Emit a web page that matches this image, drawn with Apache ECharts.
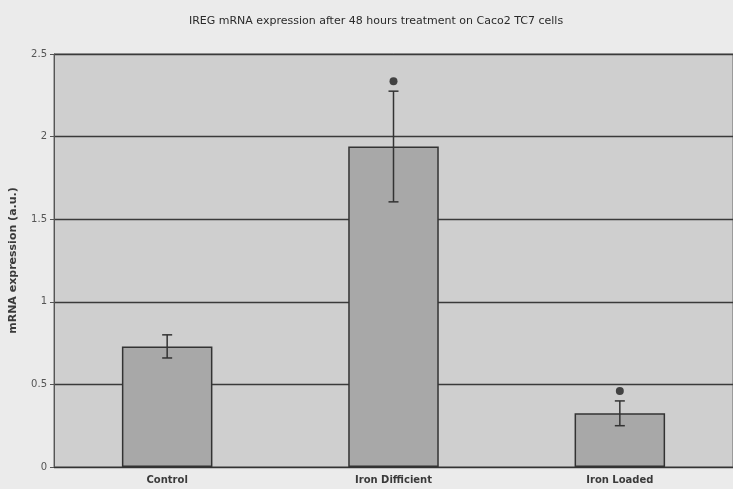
<!DOCTYPE html>
<html>
<head>
<meta charset="utf-8">
<script src="https://cdn.jsdelivr.net/npm/echarts@6/dist/echarts.min.js"></script>
<style>
  html, body { margin: 0; padding: 0; background: #ebebeb; }
  #chart { width: 733px; height: 489px; }
</style>
</head>
<body>
<div id="chart"></div>
<script>
// IREG mRNA expression, Caco2 TC7 cells, 48 h treatment
const categories = ['Control', 'Iron Difficient', 'Iron Loaded'];
const meanValues = [0.73, 1.94, 0.325];
const errorValues = [0.07, 0.335, 0.075];
// significance markers (null = no marker)
const markerValues = [null, 2.335, 0.46];
const yTicks = { min: 0, max: 2.5, step: 0.5 };

const chart = echarts.init(document.getElementById('chart'));

const errorData = categories.map((c, i) => [i, meanValues[i] - errorValues[i], meanValues[i] + errorValues[i]]);
const markerData = categories.map((c, i) => markerValues[i] == null ? null : [i, markerValues[i]]).filter(d => d);

chart.setOption({
  backgroundColor: '#ebebeb',
  animation: false,
  title: {
    text: 'IREG mRNA expression after 48 hours treatment on Caco2 TC7 cells',
    left: 371,
    textAlign: 'center',
    top: 11,
    textStyle: { fontFamily: 'DejaVu Sans', fontSize: 11, fontWeight: 'normal', color: '#2a2a2a' }
  },
  grid: {
    left: 53, top: 54, width: 684, bottom: 22,
    show: true, backgroundColor: '#cfcfcf', borderColor: '#666', borderWidth: 1
  },
  xAxis: {
    type: 'category',
    data: categories,
    axisTick: { show: false },
    axisLine: { lineStyle: { color: '#333', width: 1 } },
    axisLabel: { margin: 8, fontFamily: 'DejaVu Sans', fontSize: 10, fontWeight: 'bold', color: '#3a3a3a' }
  },
  yAxis: {
    type: 'value',
    min: yTicks.min, max: yTicks.max, interval: yTicks.step,
    name: 'mRNA expression (a.u.)',
    nameLocation: 'middle',
    nameGap: 35,
    nameTextStyle: { fontFamily: 'DejaVu Sans', fontSize: 11, fontWeight: 'bold', color: '#3a3a3a' },
    axisLine: { show: true, lineStyle: { color: '#555' } },
    axisTick: { show: true, length: 4, lineStyle: { color: '#555' } },
    axisLabel: { fontFamily: 'DejaVu Sans', fontSize: 10, color: '#555', margin: 7 },
    splitLine: { lineStyle: { color: '#3a3a3a', width: 1.3 } }
  },
  series: [
    {
      type: 'bar',
      data: meanValues,
      barWidth: '40%',
      itemStyle: { color: '#a8a8a8', borderColor: '#333', borderWidth: 1.5 },
      z: 2
    },
    {
      type: 'custom',
      data: errorData,
      z: 3,
      renderItem: function (params, api) {
        const x = api.coord([api.value(0), api.value(1)])[0];
        const yLow = api.coord([api.value(0), api.value(1)])[1];
        const yHigh = api.coord([api.value(0), api.value(2)])[1];
        const cap = 5;
        const style = { stroke: '#333', lineWidth: 1.5 };
        return {
          type: 'group',
          children: [
            { type: 'line', shape: { x1: x, y1: yHigh, x2: x, y2: yLow }, style },
            { type: 'line', shape: { x1: x - cap, y1: yHigh, x2: x + cap, y2: yHigh }, style },
            { type: 'line', shape: { x1: x - cap, y1: yLow, x2: x + cap, y2: yLow }, style }
          ]
        };
      }
    },
    {
      type: 'scatter',
      data: markerData,
      symbol: 'circle',
      symbolSize: 8,
      itemStyle: { color: '#1e1e1e' },
      z: 4
    }
  ]
});
</script>
</body>
</html>
